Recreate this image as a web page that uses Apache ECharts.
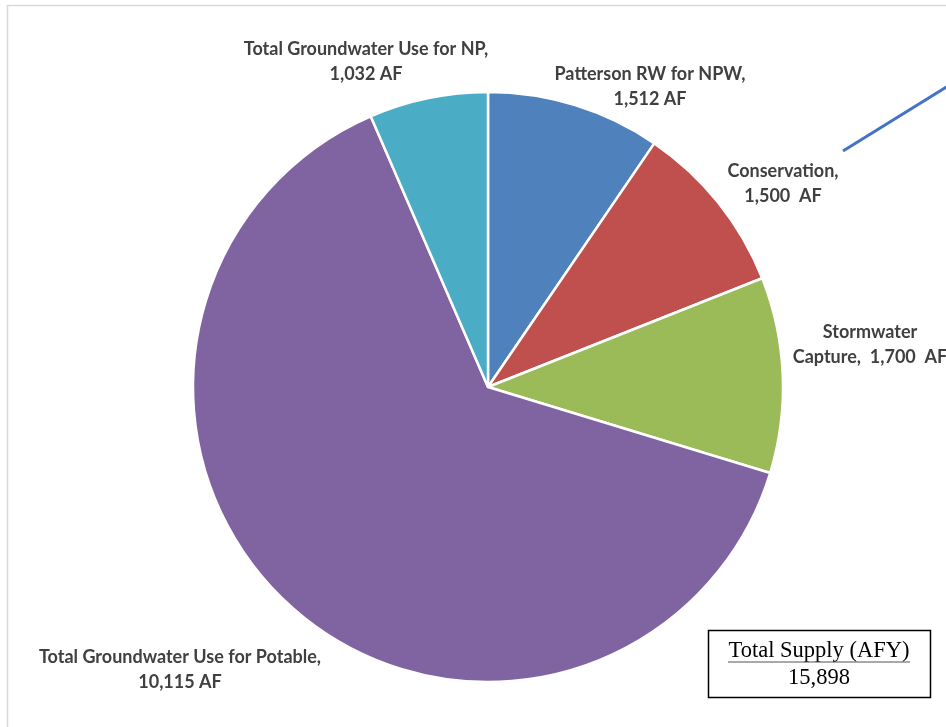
<!DOCTYPE html>
<html>
<head>
<meta charset="utf-8">
<script src="https://cdn.jsdelivr.net/npm/echarts@6/dist/echarts.min.js"></script>
<style>
  html, body { margin: 0; padding: 0; background: #fff; }
  #chart { width: 946px; height: 727px; }
</style>
</head>
<body>
<div id="chart"></div>
<script>
// Water supply sources (acre-feet), clockwise from 12 o'clock
const sourceNames = [
  'Patterson RW for NPW',
  'Conservation',
  'Stormwater\nCapture',
  'Total Groundwater Use for Potable',
  'Total Groundwater Use for NP'
];
const sourceValues = [1512, 1500, 1700, 10115, 1032];
const sliceColors = ['#4F81BD', '#C0504D', '#9BBB59', '#8064A2', '#4BACC6'];
// separators between name, value and unit in each data label
const nameSep = [',\n', ',\n', ',  ', ',\n', ',\n'];
const unitSep = [' ', '  ', '  ', ' ', ' '];
const totalTitle = 'Total Supply (AFY)';
const totalValue = 15898;

// label anchor points (centre of the text block)
const labelAnchors = [
  [650, 87], [783, 184], [870, 345], [180, 670], [366, 62]
];

const fmt = v => v.toLocaleString('en-US');

const chart = echarts.init(document.getElementById('chart'), null, { renderer: 'canvas' });

chart.setOption({
  backgroundColor: '#ffffff',
  animation: false,
  series: [{
    type: 'pie',
    center: [488, 387],
    radius: 295,
    startAngle: 90,
    clockwise: true,
    avoidLabelOverlap: false,
    itemStyle: { borderColor: '#ffffff', borderWidth: 2.5 },
    emphasis: { disabled: true },
    labelLine: { show: false },
    label: {
      show: true,
      position: 'outside',
      fontFamily: 'Lato, "Open Sans", sans-serif',
      fontWeight: 'bold',
      fontSize: 18,
      lineHeight: 25,
      color: '#404040',
      align: 'center',
      formatter: p => p.name + nameSep[p.dataIndex] + fmt(p.value) + unitSep[p.dataIndex] + 'AF'
    },
    labelLayout: p => ({
      x: labelAnchors[p.dataIndex][0],
      y: labelAnchors[p.dataIndex][1],
      align: 'center',
      verticalAlign: 'middle',
      hideOverlap: false
    }),
    data: sourceNames.map((n, i) => ({
      name: n,
      value: sourceValues[i],
      itemStyle: { color: sliceColors[i] }
    }))
  }],
  graphic: [
    {
      type: 'rect',
      shape: { x: 7.5, y: 5.5, width: 1000, height: 1000 },
      style: { fill: null, stroke: '#d9d9d9', lineWidth: 1.5 },
      silent: true
    },
    {
      type: 'line',
      shape: { x1: 843, y1: 151, x2: 948, y2: 86 },
      style: { stroke: '#4472C4', lineWidth: 3 },
      silent: true
    },
    {
      type: 'rect',
      shape: { x: 708.5, y: 630.5, width: 222, height: 67 },
      style: { fill: '#ffffff', stroke: '#000000', lineWidth: 1.5 },
      silent: true
    },
    {
      type: 'text',
      x: 819, y: 651,
      style: {
        text: totalTitle,
        font: '22.5px "Liberation Serif", "Times New Roman", serif',
        fill: '#000000',
        align: 'center',
        verticalAlign: 'middle'
      },
      silent: true
    },
    {
      type: 'line',
      shape: { x1: 728, y1: 662, x2: 910, y2: 662 },
      style: { stroke: '#555555', lineWidth: 1.2 },
      silent: true
    },
    {
      type: 'text',
      x: 819, y: 678,
      style: {
        text: fmt(totalValue),
        font: '22.5px "Liberation Serif", "Times New Roman", serif',
        fill: '#000000',
        align: 'center',
        verticalAlign: 'middle'
      },
      silent: true
    }
  ]
});
</script>
</body>
</html>
